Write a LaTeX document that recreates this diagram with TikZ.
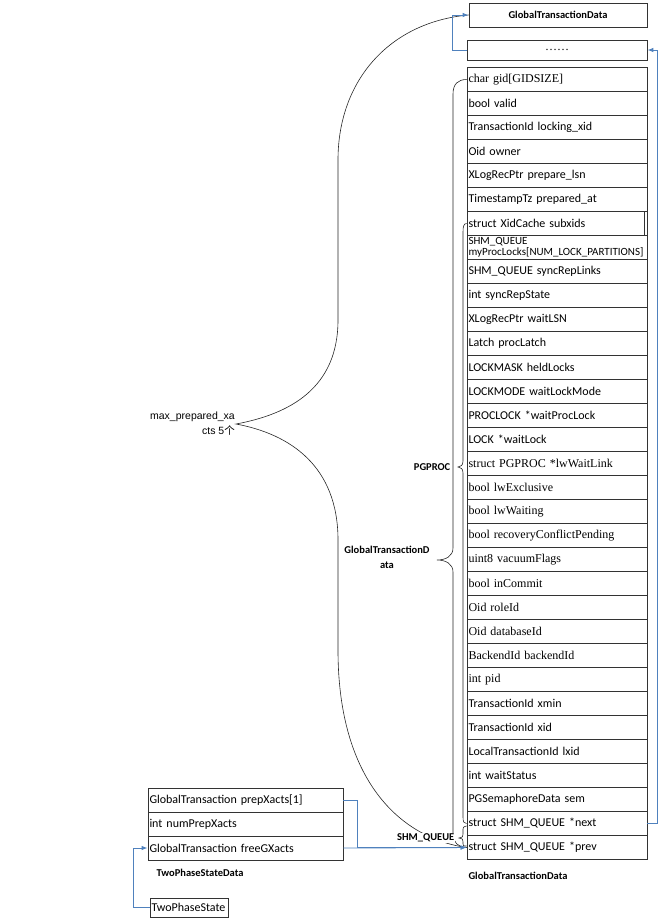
\documentclass[tikz,border=0pt]{standalone}
\usepackage{fontspec}
\setmainfont{Carlito}
\newfontfamily\tnr{Liberation Serif}
\newfontfamily\arial{Liberation Sans}
\newfontfamily\cjk{Noto Sans CJK SC}
\usepackage{tikz}
\usetikzlibrary{arrows.meta,calc}
\definecolor{linkblue}{RGB}{79,129,189}

\begin{document}
\begin{tikzpicture}
[x=1pt,y=-1pt,
field/.style={draw=black!80,line width=0.8pt,minimum width=180pt,minimum height=24pt,
text width=177pt,align=left,inner xsep=1.5pt,inner ysep=0pt,font=\fontsize{12}{11}\selectfont},
lbl/.style={font=\fontsize{10.5}{15}\selectfont\bfseries,inner sep=0.5pt},
link/.style={draw=linkblue,line width=0.9pt,-{Latex[length=6pt,width=4.5pt]}},
brace/.style={draw=black!85,line width=0.6pt}]
\useasboundingbox (0,0) rectangle (662,922);

\node[field,minimum width=178pt,text width=175pt,align=center,font=\fontsize{10.5}{12}\selectfont\bfseries] (gtd) at (558,15) {GlobalTransactionData};
\node[field,minimum height=20pt,align=center] (dots) at (557,50) {\tnr ……};
\foreach \txt [count=\i] in {{\tnr char gid[GIDSIZE]},{bool valid},{TransactionId locking\_xid},{Oid owner},
{XLogRecPtr prepare\_lsn},{TimestampTz prepared\_at},{struct XidCache subxids},
{\fontsize{11}{10.5}\selectfont SHM\_QUEUE\\myProcLocks[NUM\_LOCK\_PARTITIONS]},{SHM\_QUEUE syncRepLinks},{int syncRepState},
{XLogRecPtr waitLSN},{Latch procLatch},{LOCKMASK heldLocks},{LOCKMODE waitLockMode},
{PROCLOCK *waitProcLock},{LOCK *waitLock},{\tnr struct PGPROC *lwWaitLink},{\tnr bool lwExclusive},
{\tnr bool lwWaiting},{\tnr bool recoveryConflictPending},{\tnr uint8 vacuumFlags},{\tnr bool inCommit},
{\tnr Oid roleId},{\tnr Oid databaseId},{\tnr BackendId backendId},{\tnr int pid},{TransactionId xmin},
{TransactionId xid},{LocalTransactionId lxid},{int waitStatus},{PGSemaphoreData sem},
{struct SHM\_QUEUE *next},{struct SHM\_QUEUE *prev}}
\node[field] (f\i) at (557,{55.5+24*\i}) {\txt};
\draw[black!80,line width=0.8pt] ($(f7.north east)+(-3,0)$) -- ($(f7.south east)+(-3,0)$);
\node[lbl] (gtdname) at (518,876) {GlobalTransactionData};

\foreach \txt [count=\i] in {{GlobalTransaction prepXacts[1]},{int numPrepXacts},{GlobalTransaction freeGXacts}}
\node[field,minimum width=195pt,text width=192pt] (s\i) at (245.5,{776+24*\i}) {\txt};
\node[lbl] (tpsdname) at (200,873) {TwoPhaseStateData};
\node[field,minimum width=78pt,text width=75pt,minimum height=19pt] (tps) at (189,907.5) {TwoPhaseState};

\coordinate (tip) at (236,424);
\draw[brace] (gtd.west) .. controls (390,22) and (338,80) .. (338,160) -- (338,320)
.. controls (338,388) and (290,414) .. (tip) .. controls (290,434) and (338,466) .. (338,540)
-- (338,650) .. controls (338,780) and (400,838) .. (f33.west);
\draw[brace] (f1.west) .. controls (458,79.5) and (453,84) .. (453,94) -- (453,548)
.. controls (453,556) and (446,560) .. (437,560) .. controls (446,560) and (453,564) .. (453,572)
-- (453,834) .. controls (453,842) and (458,847.5) .. (f33.west);
\draw[brace] (f7.west) .. controls (464,223.5) and (463,226) .. (463,232) -- (463,461)
.. controls (463,465) and (461,467) .. (458,467) .. controls (461,467) and (463,469) .. (463,473)
-- (463,817) .. controls (463,822) and (464,823.5) .. (f32.west);
\draw[brace] ($(f32.west)+(0,2.5)$) .. controls (463,827) .. (463,831) -- (463,834)
.. controls (463,837) .. (459,838) .. controls (463,839) .. (463,842)
.. controls (463,846) .. ($(f33.west)+(0,-1.5)$);

\node[lbl,anchor=east] (pgproc) at (451,467) {PGPROC};
\node[lbl,align=center] (gtdd) at (387,557) {GlobalTransactionD\\ata};
\node[lbl,fill=white,anchor=east] (shm) at (455,838) {SHM\_QUEUE};
\node[font=\arial\fontsize{10.5}{15}\selectfont,align=right,anchor=east,inner sep=1pt] (maxp) at (tip) {max\_prepared\_xa\\cts 5{\cjk 个}};

\draw[link] (dots.west) -- ++(-14,0) |- (gtd.west);
\draw[link] (f32.east) -- ++(10,0) |- (dots.east);
\draw[link] (s1.east) -- ++(14,0) |- (f33.west);
\draw[link] (s3.east) -- (f33.west);
\draw[link] (tps.west) -- ++(-16,0) |- (s3.west);
\end{tikzpicture}
\end{document}
